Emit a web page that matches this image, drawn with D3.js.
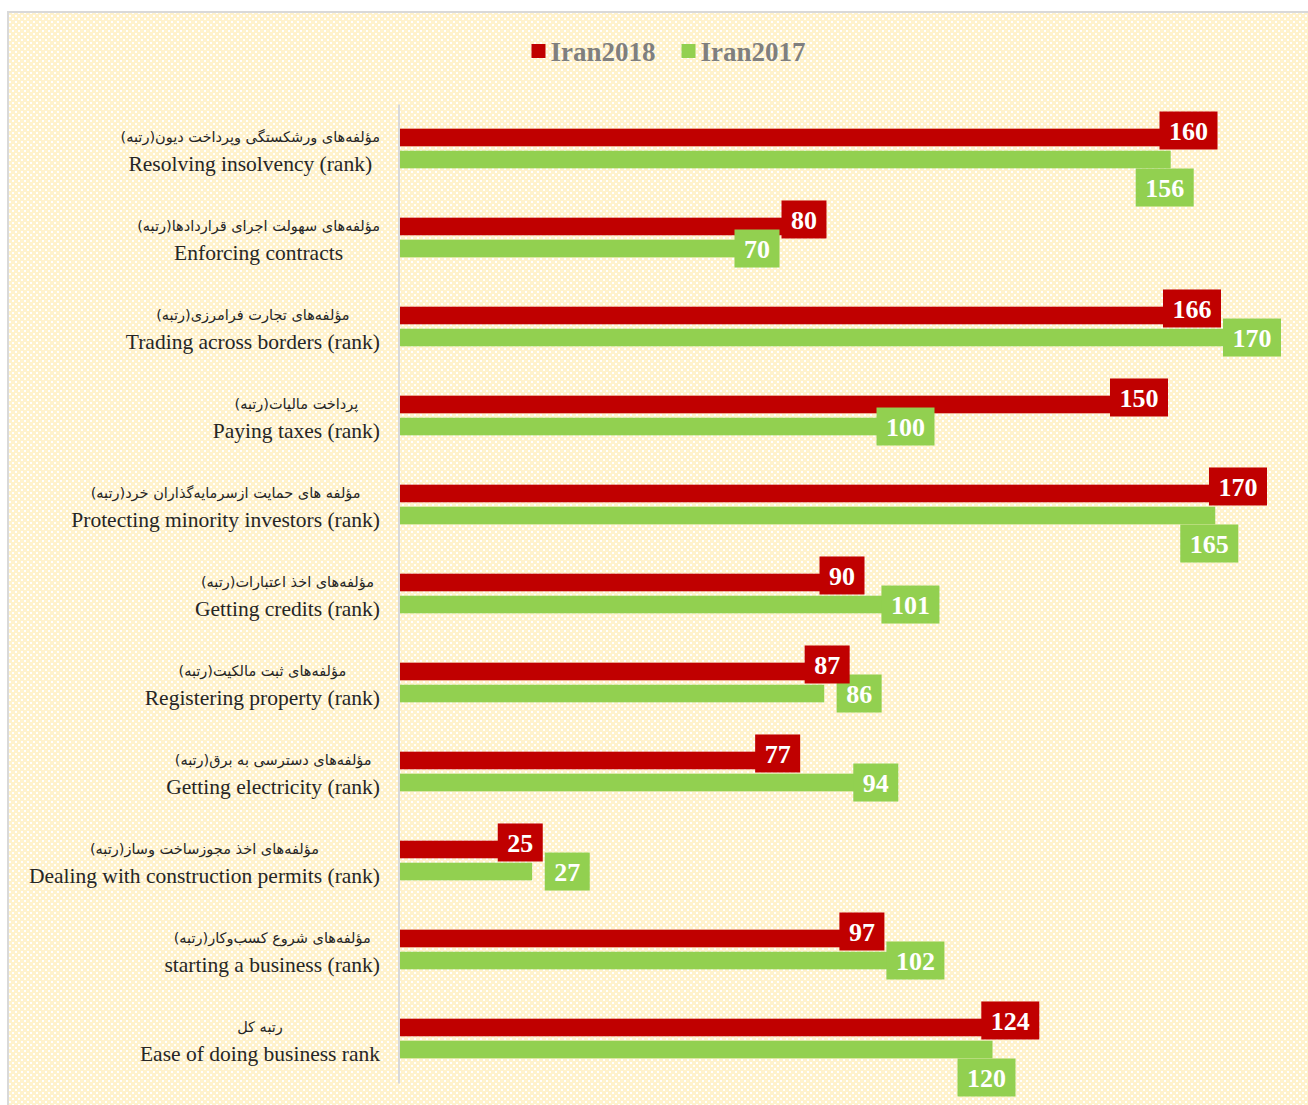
<!DOCTYPE html>
<html>
<head>
<meta charset="utf-8">
<script src="https://cdn.jsdelivr.net/npm/d3@7"></script>
<style>
  body { margin: 0; background: #fff; }
  .cat-en { font-family: "Liberation Serif", "Times New Roman", serif; font-size: 21.5px; fill: #262626; }
  .cat-fa { font-family: "DejaVu Sans", sans-serif; font-size: 14.5px; fill: #262626; }
  .legend text { font-family: "Liberation Serif", serif; font-weight: bold; font-size: 27px; fill: #7f7f7f; }
  .lbl text { font-family: "Liberation Serif", serif; font-weight: bold; font-size: 26px; fill: #fff; }
</style>
</head>
<body>
<script>
// categories, top to bottom
var categoriesFa = [
    'مؤلفه‌های ورشکستگی وپرداخت دیون(رتبه)',
    'مؤلفه‌های سهولت اجرای قراردادها(رتبه)',
    'مؤلفه‌های تجارت فرامرزی(رتبه)',
    'پرداخت مالیات(رتبه)',
    'مؤلفه های حمایت ازسرمایه‌گذاران خرد(رتبه)',
    'مؤلفه‌های اخذ اعتبارات(رتبه)',
    'مؤلفه‌های ثبت مالکیت(رتبه)',
    'مؤلفه‌های دسترسی به برق(رتبه)',
    'مؤلفه‌های اخذ مجوزساخت وساز(رتبه)',
    'مؤلفه‌های شروع کسب‌وکار(رتبه)',
    'رتبه کل'
];
var categoriesEn = [
    'Resolving insolvency (rank)',
    'Enforcing contracts',
    'Trading across borders (rank)',
    'Paying taxes (rank)',
    'Protecting minority investors (rank)',
    'Getting credits (rank)',
    'Registering property (rank)',
    'Getting electricity (rank)',
    'Dealing with construction permits (rank)',
    'starting a business (rank)',
    'Ease of doing business rank'
];
var seriesNames = ['Iran2018', 'Iran2017'];
var iran2018 = [160, 80, 166, 150, 170, 90, 87, 77, 25, 97, 124];
var iran2017 = [156, 70, 170, 100, 165, 101, 86, 94, 27, 102, 120];
var colors = ['#C00000', '#92D050'];

var svgWidth = 1308, svgHeight = 1105;

var svg = d3.select('body')
    .append('svg')
    .attr('width', svgWidth)
    .attr('height', svgHeight);

// excel-like dotted background
var pat = svg.append('defs').append('pattern')
    .attr('id', 'bgpat')
    .attr('patternUnits', 'userSpaceOnUse')
    .attr('width', 6)
    .attr('height', 6);
pat.append('rect').attr('width', 6).attr('height', 6).attr('fill', '#FFF2CC');
pat.append('rect').attr('x', 0).attr('y', 0).attr('width', 2).attr('height', 2).attr('fill', '#fff');
pat.append('rect').attr('x', 3).attr('y', 3).attr('width', 2).attr('height', 2).attr('fill', '#fff');

svg.append('rect')
    .attr('x', 8)
    .attr('y', 12)
    .attr('width', svgWidth)
    .attr('height', svgHeight)
    .attr('fill', 'url(#bgpat)')
    .attr('stroke', '#d9d9d9')
    .attr('stroke-width', 2);

var data = categoriesEn.map(function(c, i) {
    return { i: i, en: c, fa: categoriesFa[i], values: [iran2018[i], iran2017[i]] };
});

var xScale = d3.scaleLinear()
    .domain([0, 180])
    .range([398.5, 1289.5]);

var yScale = d3.scaleBand()
    .domain(d3.range(categoriesEn.length))
    .range([104, 1083]);

var ySub = d3.scaleBand()
    .domain([0, 1])
    .range([0, yScale.bandwidth()])
    .paddingInner(0.2)
    .paddingOuter(1.12);

// bars
var rows = svg.selectAll('g.row')
    .data(data)
    .enter()
    .append('g')
    .attr('class', 'row')
    .attr('transform', function(d) { return 'translate(0,' + yScale(d.i) + ')'; });

rows.selectAll('rect')
    .data(function(d) { return d.values; })
    .enter()
    .append('rect')
    .attr('x', xScale(0))
    .attr('y', function(v, j) { return ySub(j); })
    .attr('width', function(v) { return xScale(v) - xScale(0); })
    .attr('height', ySub.bandwidth())
    .attr('fill', function(v, j) { return colors[j]; });

// y axis line
var yAxis = d3.axisLeft(yScale).tickSize(0).tickFormat('');
var axisG = svg.append('g')
    .attr('transform', 'translate(' + xScale(0) + ',0)')
    .call(yAxis);
axisG.select('.domain').attr('stroke', '#d9d9d9').attr('stroke-width', 2);

// category labels, two centered lines, block right aligned
rows.each(function(d) {
    var g = d3.select(this);
    var cy = yScale.bandwidth() / 2;
    var fa = g.append('text').attr('class', 'cat-fa')
        .attr('direction', 'rtl')
        .attr('text-anchor', 'middle')
        .attr('y', cy - 6.5)
        .text(d.fa);
    var en = g.append('text').attr('class', 'cat-en')
        .attr('text-anchor', 'middle')
        .attr('y', cy + 22.5)
        .text(d.en);
    var w = Math.max(fa.node().getComputedTextLength(), en.node().getComputedTextLength());
    var mid = 380 - w / 2;
    fa.attr('x', mid);
    en.attr('x', mid);
});

// data labels (boxes), nudged so they don't sit on each other
var boxH = 38;
function boxWidth(v) { return String(v).length * 13 + 19; }

data.forEach(function(d) {
    var rv = d.values[0], gv = d.values[1];
    var rw = boxWidth(rv), gw = boxWidth(gv);
    var rx = xScale(rv) - 2;
    var ry = yScale(d.i) + ySub(0) + ySub.bandwidth() / 2 - 7;
    var gx = xScale(gv) + 12;
    var gy = yScale(d.i) + ySub(1) + ySub.bandwidth() / 2;
    var overlap = (rw + gw) / 2 - Math.abs(gx - rx);
    if (overlap > 0) {
        var twoDigit = String(gv).length < 3;
        if (overlap < 30 && twoDigit && gx > rx) {
            gx += overlap + 2;
        } else if (overlap < 30) {
            rx += (rx > gx ? 1 : -1) * (overlap + 2);
        } else if (!twoDigit) {
            gx = xScale(gv) - 6;
            gy += 28;
        } else {
            gx = rx + rw / 2 - 13 + gw / 2;
        }
    }
    d.boxes = [{ v: rv, x: rx, y: ry, w: rw }, { v: gv, x: gx, y: gy, w: gw }];
});

// green first, red on top
[1, 0].forEach(function(j) {
    var lbl = svg.selectAll('g.lbl' + j)
        .data(data)
        .enter()
        .append('g')
        .attr('class', 'lbl lbl' + j);
    lbl.append('rect')
        .attr('x', function(d) { return d.boxes[j].x - d.boxes[j].w / 2; })
        .attr('y', function(d) { return d.boxes[j].y - boxH / 2; })
        .attr('width', function(d) { return d.boxes[j].w; })
        .attr('height', boxH)
        .attr('fill', colors[j]);
    lbl.append('text')
        .attr('text-anchor', 'middle')
        .attr('x', function(d) { return d.boxes[j].x; })
        .attr('y', function(d) { return d.boxes[j].y + 9.5; })
        .text(function(d) { return d.boxes[j].v; });
});

// legend
var legend = svg.append('g').attr('class', 'legend');
var items = legend.selectAll('g')
    .data(seriesNames)
    .enter()
    .append('g');
items.append('rect')
    .attr('width', 14)
    .attr('height', 14)
    .attr('y', 44)
    .attr('fill', function(d, i) { return colors[i]; });
items.append('text')
    .attr('x', 19)
    .attr('y', 61)
    .text(function(d) { return d; });
var widths = [];
items.each(function() { widths.push(this.getBBox().width); });
var total = d3.sum(widths) + 26 * (widths.length - 1);
var lx = 668.5 - total / 2;
items.attr('transform', function(d, i) {
    var x = lx;
    lx += widths[i] + 26;
    return 'translate(' + x + ',0)';
});
</script>
</body>
</html>
